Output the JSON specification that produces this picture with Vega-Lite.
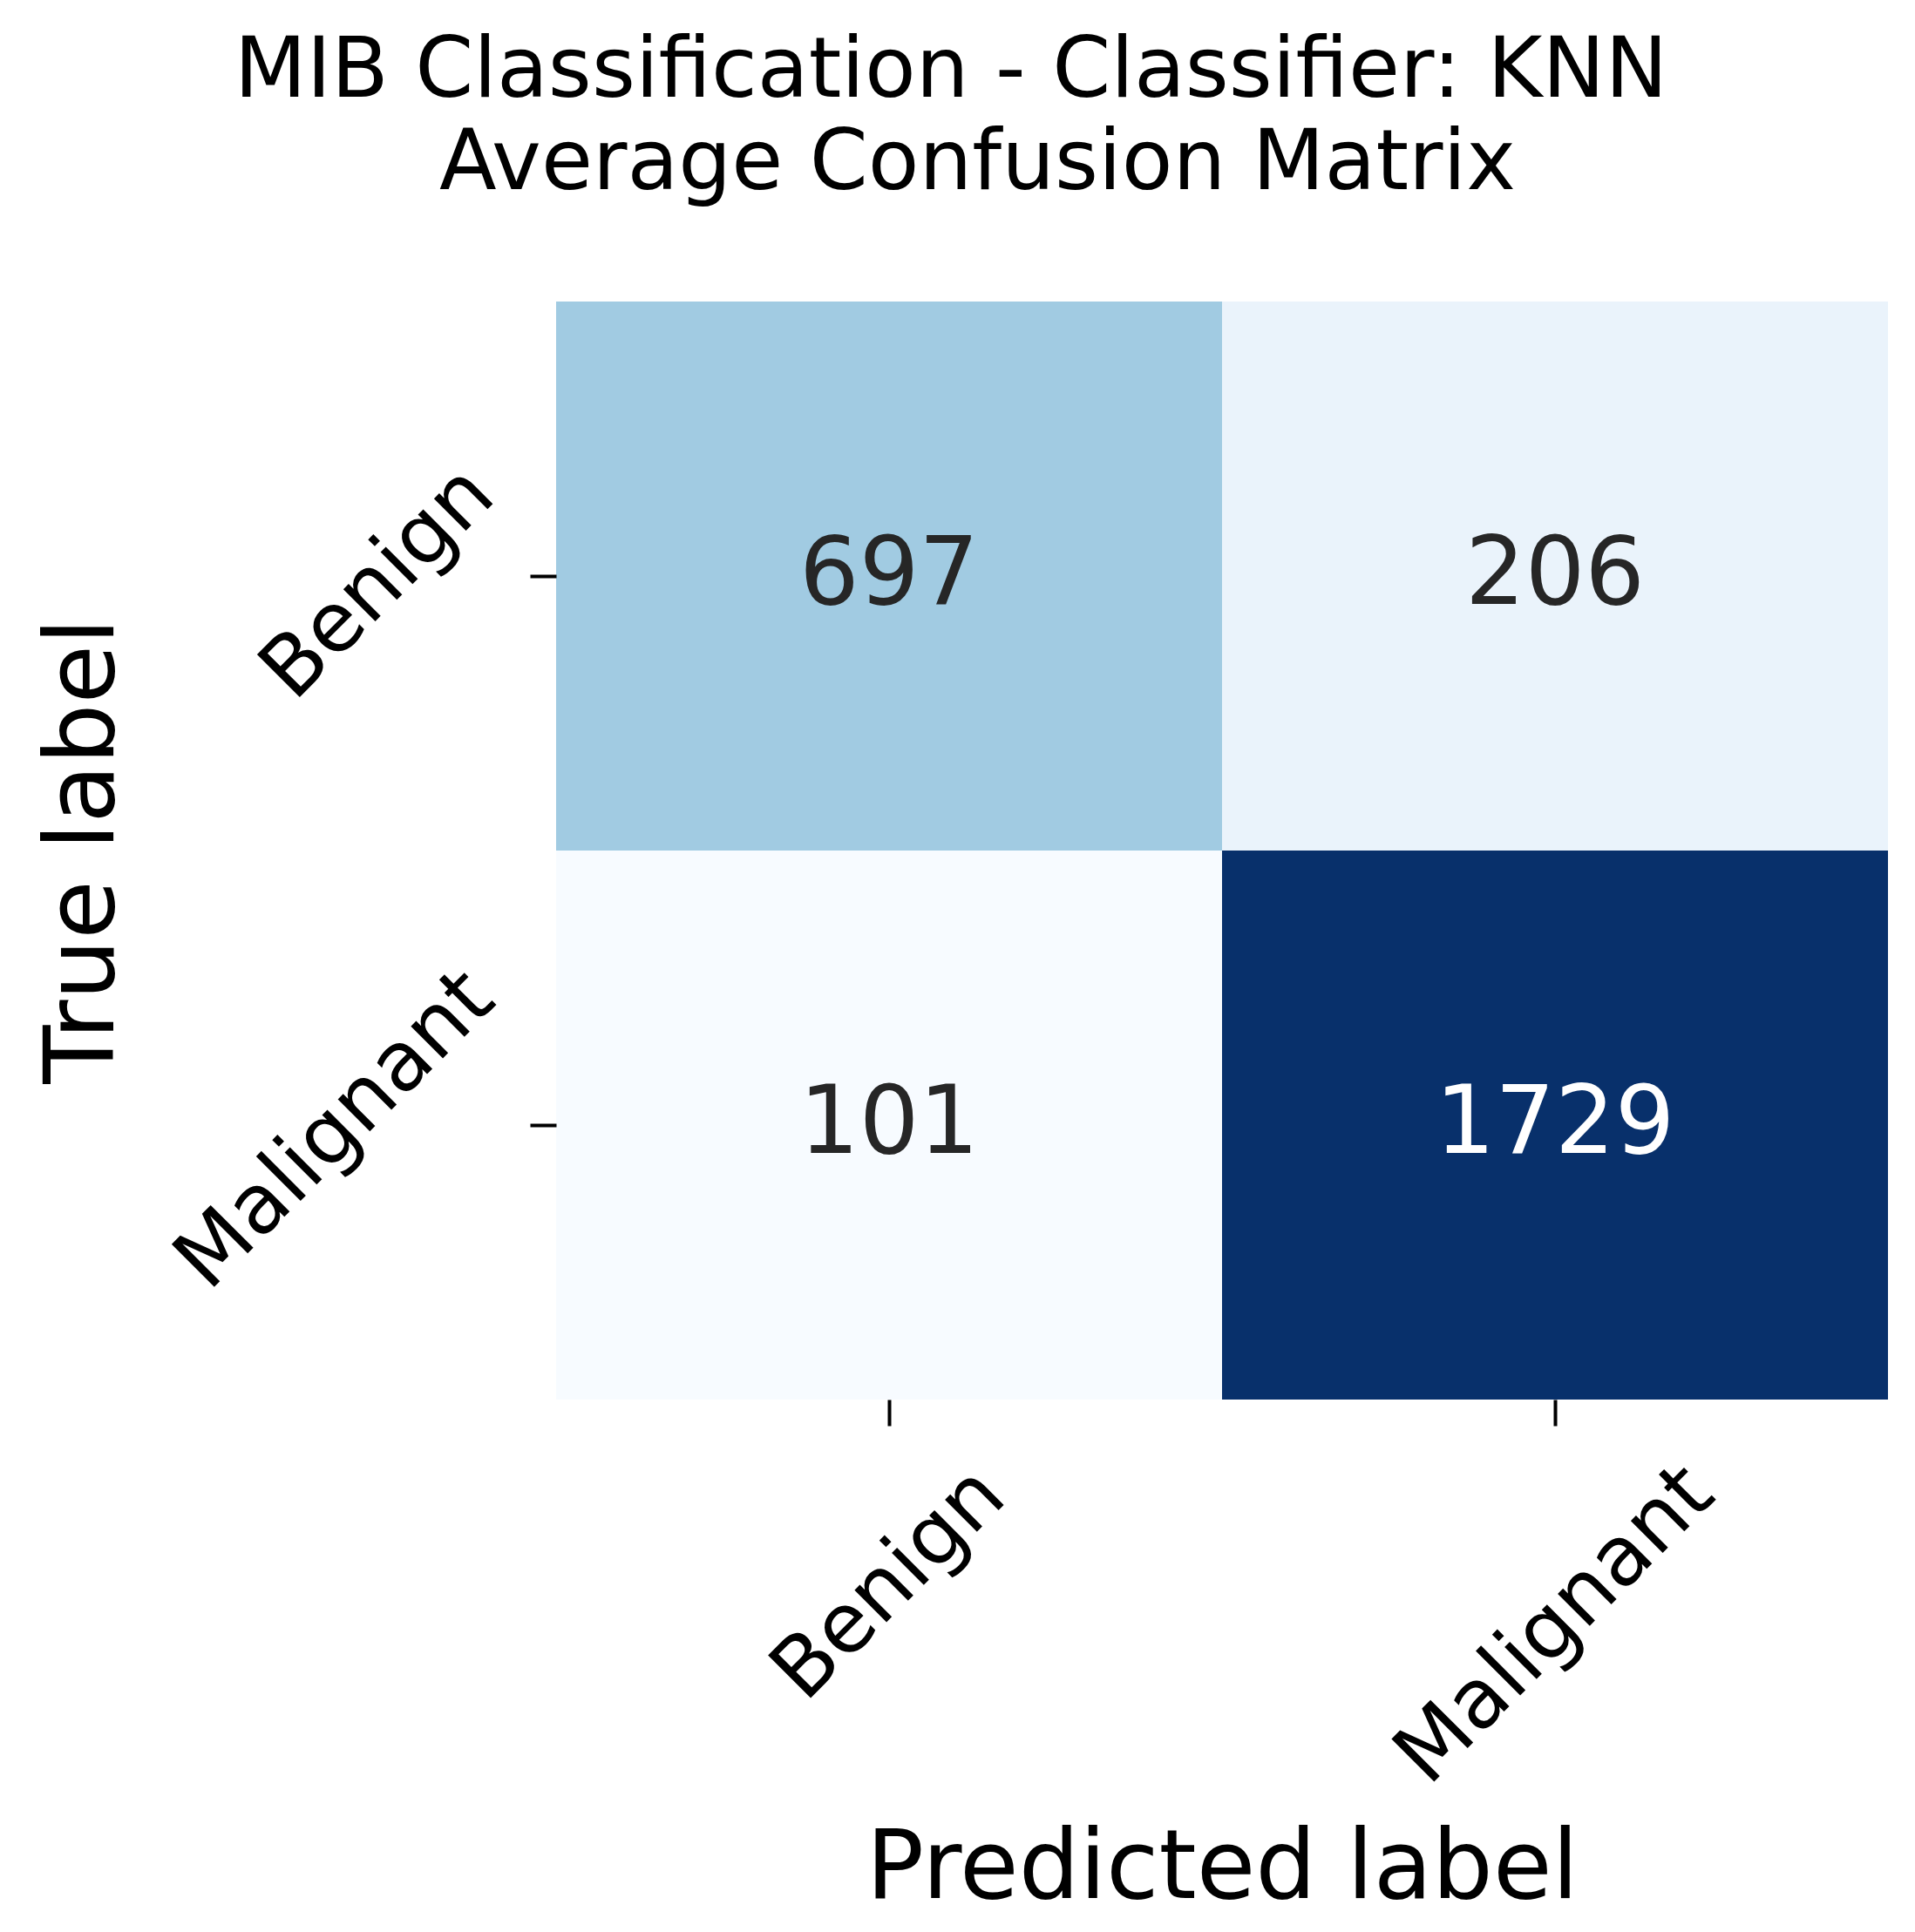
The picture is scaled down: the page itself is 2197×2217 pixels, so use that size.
{
  "$schema": "https://vega.github.io/schema/vega-lite/v6.json",
  "autosize": "none",
  "padding": {"left": 638, "top": 346, "right": 31, "bottom": 611},
  "width": 1528,
  "height": 1260,
  "background": "white",
  "config": {"view": {"stroke": null}},
  "title": {
    "text": ["MIB Classification - Classifier: KNN", "\u200b\u00a0\u00a0Average Confusion Matrix"],
    "anchor": "middle",
    "frame": "group",
    "dx": -311,
    "dy": 97,
    "fontSize": 96,
    "font": "DejaVu Sans",
    "fontWeight": "normal",
    "color": "black",
    "lineHeight": 106,
    "baseline": "alphabetic",
    "offset": 130
  },
  "data": {
    "values": [
      {"true_label": "Benign", "predicted": "Benign", "count": 697},
      {"true_label": "Benign", "predicted": "Malignant", "count": 206},
      {"true_label": "Malignant", "predicted": "Benign", "count": 101},
      {"true_label": "Malignant", "predicted": "Malignant", "count": 1729}
    ]
  },
  "encoding": {
    "x": {
      "field": "predicted",
      "type": "nominal",
      "sort": ["Benign", "Malignant"],
      "scale": {"paddingInner": 0, "paddingOuter": 0},
      "axis": {
        "title": "Predicted label",
        "titleFontSize": 110,
        "titleFont": "DejaVu Sans",
        "titleFontWeight": "normal",
        "titleColor": "black",
        "titleBaseline": "alphabetic",
        "titleAnchor": "middle",
        "titleY": 571,
        "labelAngle": -45,
        "labelAlign": "center",
        "labelBaseline": "middle",
        "labelFontSize": 95,
        "labelFont": "DejaVu Sans",
        "labelColor": "black",
        "labelPadding": {"condition": {"test": "datum.value === 'Benign'", "value": 181}, "value": 228},
        "tickSize": 30,
        "tickWidth": 4,
        "tickColor": "black",
        "domain": false,
        "grid": false,
        "labelLimit": 2000,
        "labelOverlap": false,
        "labelBound": false,
        "labelFlush": false
      }
    },
    "y": {
      "field": "true_label",
      "type": "nominal",
      "sort": ["Benign", "Malignant"],
      "scale": {"paddingInner": 0, "paddingOuter": 0},
      "axis": {
        "title": "True label",
        "titleFontSize": 110,
        "titleFont": "DejaVu Sans",
        "titleFontWeight": "normal",
        "titleColor": "black",
        "titleAngle": -90,
        "titleBaseline": "alphabetic",
        "titleAnchor": "middle",
        "titleX": -509,
        "titleY": 630,
        "labelAngle": -45,
        "labelAlign": "right",
        "labelBaseline": "middle",
        "labelFontSize": 95,
        "labelFont": "DejaVu Sans",
        "labelColor": "black",
        "labelPadding": 58,
        "labelOffset": {"condition": {"test": "datum.value === 'Benign'", "value": -109}, "value": -160},
        "tickSize": 30,
        "tickWidth": 4,
        "tickColor": "black",
        "domain": false,
        "grid": false,
        "labelLimit": 2000,
        "labelOverlap": false,
        "labelBound": false,
        "labelFlush": false
      }
    }
  },
  "layer": [
    {
      "mark": {"type": "rect"},
      "encoding": {
        "color": {
          "field": "count",
          "type": "quantitative",
          "scale": {
            "domain": [101, 1729],
            "range": ["#f7fbff", "#deebf7", "#c6dbef", "#9ecae1", "#6baed6", "#4292c6", "#2171b5", "#08519c", "#08306b"],
            "interpolate": "rgb"
          },
          "legend": null
        }
      }
    },
    {
      "mark": {"type": "text", "font": "DejaVu Sans", "fontSize": 108, "baseline": "middle", "align": "center"},
      "encoding": {
        "text": {"field": "count", "type": "quantitative"},
        "color": {"condition": {"test": "datum.count > 1000", "value": "white"}, "value": "#262626"}
      }
    }
  ]
}
